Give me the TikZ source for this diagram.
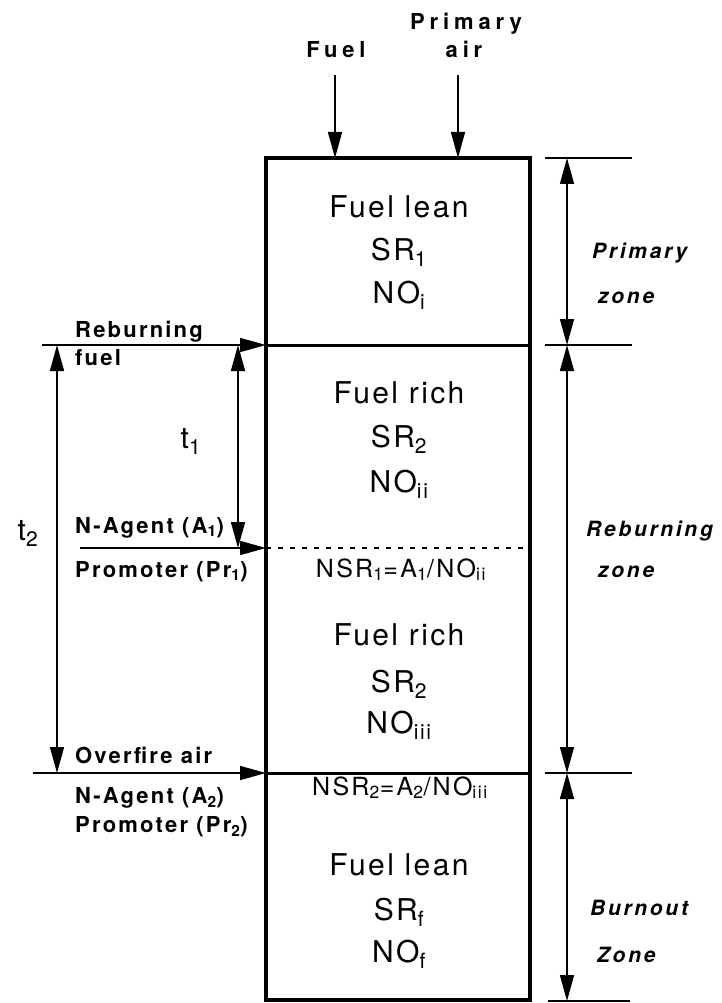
\documentclass[tikz,border=0pt]{standalone}
\usepackage{fontspec}
\setmainfont{TeX Gyre Heros}
\newfontfamily\boxfont[LetterSpace=8]{TeX Gyre Heros}
\newfontfamily\nsrfont[LetterSpace=9]{TeX Gyre Heros}
\newfontfamily\labfont[LetterSpace=10]{TeX Gyre Heros}
\newfontfamily\zonefont[LetterSpace=13]{TeX Gyre Heros}
\newfontfamily\topfont[LetterSpace=22]{TeX Gyre Heros}
\usetikzlibrary{arrows.meta}
\tikzset{
  boxline/.style={line width=4pt},
  zoneline/.style={line width=3pt},
  splitline/.style={line width=2pt, dash pattern=on 5pt off 7pt},
  thinline/.style={line width=1.5pt},
  tip/.tip={Triangle[length=26pt,width=14pt]},
  feed/.style={thinline, -tip},
  dim/.style={thinline, tip-tip},
  boxtxt/.style={font=\boxfont\fontsize{30}{30}\selectfont, inner sep=0pt, anchor=base},
  nsrtxt/.style={font=\nsrfont\fontsize{25}{25}\selectfont, inner sep=0pt, anchor=base},
  lab/.style={font=\labfont\bfseries\fontsize{22}{22}\selectfont, inner sep=0pt, anchor=base west},
  toplab/.style={font=\topfont\bfseries\fontsize{22}{22}\selectfont, inner sep=0pt, anchor=base},
  zonelab/.style={font=\zonefont\bfseries\itshape\fontsize{21}{21}\selectfont, inner sep=0pt, anchor=base west},
  ttxt/.style={font=\boxfont\fontsize{30}{30}\selectfont, inner sep=0pt, anchor=base},
}
\begin{document}
\begin{tikzpicture}[x=1pt,y=-1pt]
\useasboundingbox (0,0) rectangle (721,1003);
% box and boundaries
\coordinate (bTL) at (266,158);
\coordinate (bBR) at (530,1000);
\coordinate (z1L) at (266,345); \coordinate (z1R) at (530,345);
\coordinate (dsL) at (266,548); \coordinate (dsR) at (530,548);
\coordinate (z2L) at (266,773); \coordinate (z2R) at (530,773);
\draw[zoneline] (z1L) -- (z1R);
\draw[zoneline] (z2L) -- (z2R);
\draw[splitline] (dsL) -- (dsR);
\draw[boxline] (bTL) rectangle (bBR);
% top inputs
\node[toplab] (fuel) at (336,58) {Fuel};
\node[toplab] (prim) at (466,30) {Primary};
\node[toplab] (air) at (464,58) {air};
\coordinate (fuelS) at (335,75); \coordinate (fuelE) at (335,158);
\coordinate (airS) at (458,75); \coordinate (airE) at (458,158);
\draw[feed] (fuelS) -- (fuelE);
\draw[feed] (airS) -- (airE);
% left feeds
\coordinate (rbS) at (42,345);
\draw[feed] (rbS) -- (z1L);
\coordinate (naS) at (80,548);
\draw[feed] (naS) -- (dsL);
\coordinate (ofS) at (33,773);
\draw[feed] (ofS) -- (z2L);
\node[lab] (reb) at (75,337) {Reburning};
\node[lab] (rebf) at (75,365) {fuel};
\node[lab] (na1) at (75,533) {N-Agent (A\textsubscript{1})};
\node[lab] (pr1) at (75,577) {Promoter (Pr\textsubscript{1})};
\node[lab] (ofa) at (75,763) {Overfire air};
\node[lab] (na2) at (75,803) {N-Agent (A\textsubscript{2})};
\node[lab] (pr2) at (75,832) {Promoter (Pr\textsubscript{2})};
% times
\coordinate (t1a) at (238,345); \coordinate (t1b) at (238,548);
\draw[dim] (t1a) -- (t1b);
\coordinate (t2a) at (57,345); \coordinate (t2b) at (57,773);
\draw[dim] (t2a) -- (t2b);
\node[ttxt] (t1) at (191,448) {t\textsubscript{1}};
\node[ttxt] (t2) at (28,540) {t\textsubscript{2}};
% box texts
\node[boxtxt] (a1) at (399,217) {Fuel lean};
\node[boxtxt] (a2) at (399,260) {SR\textsubscript{1}};
\node[boxtxt] (a3) at (399,303) {NO\textsubscript{i}};
\node[boxtxt] (b1) at (399,403) {Fuel rich};
\node[boxtxt] (b2) at (399,447) {SR\textsubscript{2}};
\node[boxtxt] (b3) at (399,492) {NO\textsubscript{ii}};
\node[nsrtxt] (n1) at (401,577) {NSR\textsubscript{1}=A\textsubscript{1}/NO\textsubscript{ii}};
\node[boxtxt] (c1) at (399,645) {Fuel rich};
\node[boxtxt] (c2) at (399,692) {SR\textsubscript{2}};
\node[boxtxt] (c3) at (399,733) {NO\textsubscript{iii}};
\node[nsrtxt] (n2) at (400,795) {NSR\textsubscript{2}=A\textsubscript{2}/NO\textsubscript{iii}};
\node[boxtxt] (d1) at (399,875) {Fuel lean};
\node[boxtxt] (d2) at (399,920) {SR\textsubscript{f}};
\node[boxtxt] (d3) at (399,962) {NO\textsubscript{f}};
% right dimensions
\coordinate (r0L) at (545,158); \coordinate (r0R) at (632,158);
\coordinate (r1L) at (545,345); \coordinate (r1R) at (632,345);
\coordinate (r2L) at (545,773); \coordinate (r2R) at (632,773);
\coordinate (r3L) at (548,1001); \coordinate (r3R) at (630,1001);
\draw[thinline] (r0L) -- (r0R);
\draw[thinline] (r1L) -- (r1R);
\draw[thinline] (r2L) -- (r2R);
\draw[thinline] (r3L) -- (r3R);
\coordinate (d0) at (567,158); \coordinate (d1) at (567,345);
\coordinate (d2) at (567,773); \coordinate (d3) at (567,1001);
\draw[dim] (d0) -- (d1);
\draw[dim] (d1) -- (d2);
\draw[dim] (d2) -- (d3);
\node[zonelab] (pz1) at (592,258) {Primary};
\node[zonelab] (pz2) at (598,303) {zone};
\node[zonelab] (rz1) at (586,536) {Reburning};
\node[zonelab] (rz2) at (598,577) {zone};
\node[zonelab] (bz1) at (590,915) {Burnout};
\node[zonelab] (bz2) at (597,962) {Zone};
\end{tikzpicture}
\end{document}
